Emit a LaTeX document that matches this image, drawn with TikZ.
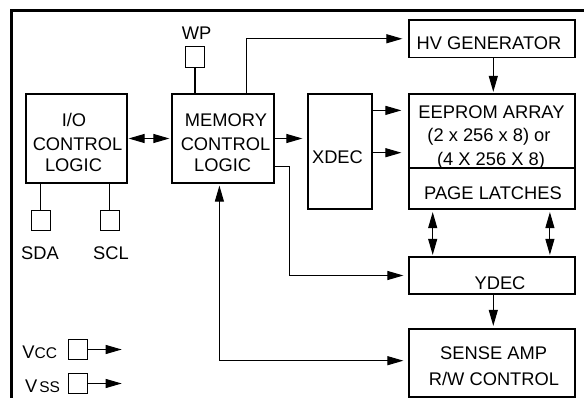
\documentclass[tikz,border=0pt]{standalone}
\usepackage{fontspec}
\setmainfont{Liberation Sans}
\usetikzlibrary{arrows.meta,calc}
\begin{document}
\begin{tikzpicture}[x=1pt,y=-1pt,
  box/.style={draw, line width=1.2pt, inner sep=0pt},
  pin/.style={draw, line width=1pt, inner sep=0pt, minimum width=19pt, minimum height=20pt},
  lbl/.style={anchor=base, inner sep=0pt, font=\fontsize{18.3}{20}\selectfont},
  conn/.style={line width=1.05pt},
  >={Triangle[length=16pt,width=9pt]}
]
\useasboundingbox (0,0) rectangle (584,398);
% outer frame
\draw[line width=3pt] (11,420) -- (11,10.5) -- (600,10.5);

% blocks
\node[box, minimum width=101pt, minimum height=89pt] (io) at (76.5,138.5) {};
\node[box, minimum width=102pt, minimum height=89pt] (mem) at (223,138.5) {};
\node[box, minimum width=166pt, minimum height=37.5pt] (hv) at (492,38.75) {};
\node[box, minimum width=64pt, minimum height=115pt] (xdec) at (340,151.5) {};
\node[box, minimum width=166pt, minimum height=74pt] (eep) at (492,131) {};
\node[box, minimum width=166pt, minimum height=41pt] (pl) at (492,188.5) {};
\node[box, minimum width=166pt, minimum height=37pt] (ydec) at (492,275.5) {};
\node[box, minimum width=166pt, minimum height=68pt] (sense) at (492,363) {};

% pins
\node[pin, minimum width=18.5pt, minimum height=21pt] (wp) at (195,57.5) {};
\node[pin] (sda) at (40.5,221) {};
\node[pin] (scl) at (109.5,221) {};
\node[pin] (vcc) at (77.5,349.5) {};
\node[pin] (vss) at (77.5,383.5) {};

% texts
\node[lbl] (io-t1) at (74,126.7) {I/O};
\node[lbl] (io-t2) at (77.5,150.5) {CONTROL};
\node[lbl] (io-t3) at (73.5,171.5) {LOGIC};
\node[lbl] (mem-t1) at (226,126.2) {MEMORY};
\node[lbl] (mem-t2) at (225.5,150.5) {CONTROL};
\node[lbl] (mem-t3) at (222.7,171.5) {LOGIC};
\node[lbl] (wp-t) at (196.7,40) {WP};
\node[lbl] (hv-t) at (489,50) {HV GENERATOR};
\node[lbl] (xdec-t) at (337.5,163.3) {XDEC};
\node[lbl] (eep-t1) at (491.5,118.3) {EEPROM ARRAY};
\node[lbl] (eep-t2) at (489,141.7) {(2 x 256 x 8) or};
\node[lbl] (eep-t3) at (491,165.3) {(4 X 256 X 8)};
\node[lbl] (pl-t) at (493,200) {PAGE LATCHES};
\node[lbl] (ydec-t) at (500,290) {YDEC};
\node[lbl] (sense-t1) at (493.6,359.3) {SENSE AMP};
\node[lbl] (sense-t2) at (494,385) {R/W CONTROL};
\node[lbl] (sda-t) at (40,259.3) {SDA};
\node[lbl] (scl-t) at (111,259.3) {SCL};
\node[lbl, anchor=base west] (vcc-t) at (22.3,358.3) {V\fontsize{15.5}{15}\selectfont CC};
\node[lbl, anchor=base west] (vss-t) at (25,392.7) {V\kern2pt\fontsize{15.5}{15}\selectfont SS};

% free ends
\coordinate (vccend) at (121.7,349.5);
\coordinate (vssend) at (121.7,383.5);

% connectors
\draw[conn,<->,shorten <=1pt,shorten >=2pt] (io.east) -- (mem.west);
\draw[conn] (wp.south) -- (wp.south |- mem.north);
\draw[conn,->,shorten >=6pt] ($(mem.north west)+(74.7,0)$) |- (hv.west);
\draw[conn,->,shorten >=5pt] (mem.east) -- (mem.east -| xdec.west);
\draw[conn,->,shorten >=7pt] ($(xdec.north east)+(0,17)$) -- ($(eep.north west)+(0,17)$);
\draw[conn,->,shorten >=7pt] ($(xdec.north east)+(0,59.3)$) -- ($(eep.north west)+(0,59.3)$);
\draw[conn,->,shorten >=1.5pt] ($(hv.south)+(1.3,0)$) -- ($(eep.north)+(1.3,0)$);
\draw[conn,<->,shorten <=2.5pt,shorten >=1.5pt] ($(pl.south west)+(24.3,0)$) -- ($(ydec.north west)+(24.3,0)$);
\draw[conn,<->,shorten <=2.5pt,shorten >=1.5pt] ($(pl.south east)+(-25.7,0)$) -- ($(ydec.north east)+(-25.7,0)$);
\draw[conn,->,shorten >=5pt] ($(mem.south east)+(0,-17.3)$) -- ++(15.3,0) |- (ydec.west);
\draw[conn,->,shorten >=2.5pt] ($(ydec.south)+(1.3,0)$) -- ($(sense.north)+(1.3,0)$);
\draw[conn,<->,shorten <=2pt,shorten >=5pt] ($(mem.south west)+(48,0)$) |- ($(sense.west)+(0,-2.3)$);
\draw[conn] (sda.north |- io.south) -- (sda.north);
\draw[conn] (scl.north |- io.south) -- (scl.north);
\draw[conn,->] (vcc.east) -- (vccend);
\draw[conn,->] (vss.east) -- (vssend);
\end{tikzpicture}
\end{document}
